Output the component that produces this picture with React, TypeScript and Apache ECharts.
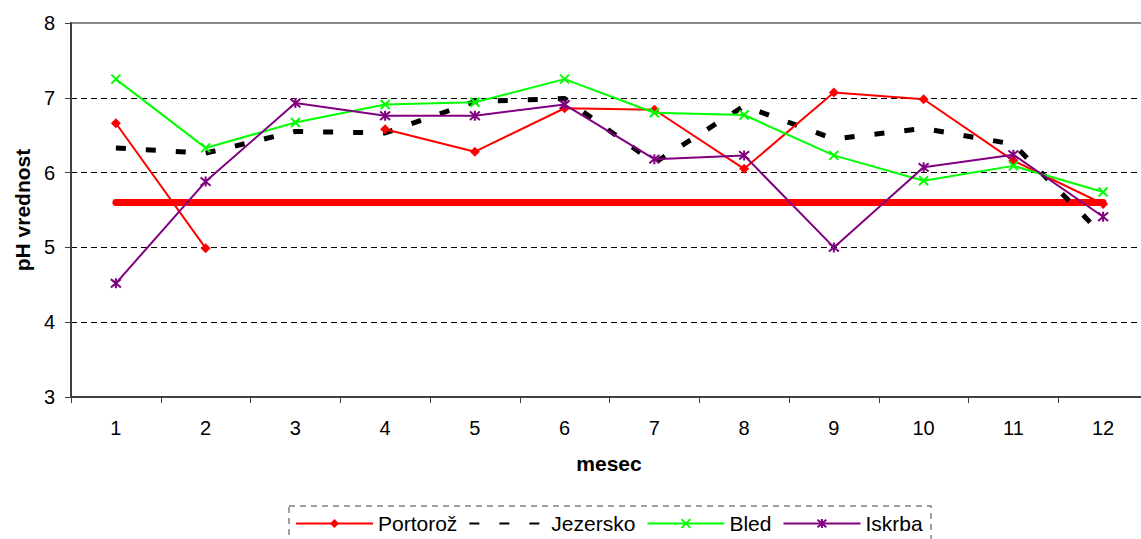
import React, { useEffect, useRef } from "react";
import * as echarts from "echarts";

const months = ["1", "2", "3", "4", "5", "6", "7", "8", "9", "10", "11", "12"];
const yTicks = { min: 3, max: 8, interval: 1 };

const portoroz: (number | null)[] = [6.66, 4.99, null, 6.58, 6.28, 6.86, 6.84, 6.05, 7.07, 6.98, 6.16, 5.58];
const jezersko = [6.33, 6.26, 6.55, 6.53, 6.95, 6.99, 6.13, 6.89, 6.45, 6.59, 6.38, 5.16];
const bled = [7.25, 6.33, 6.67, 6.91, 6.94, 7.25, 6.8, 6.77, 6.23, 5.89, 6.09, 5.74];
const iskrba = [4.52, 5.88, 6.93, 6.76, 6.76, 6.91, 6.18, 6.23, 5.0, 6.07, 6.24, 5.41];
const limit = [5.6, 5.6, 5.6, 5.6, 5.6, 5.6, 5.6, 5.6, 5.6, 5.6, 5.6, 5.6];

const FONT = "'Liberation Sans', Arial, sans-serif";

export default function App() {
  const ref = useRef<HTMLDivElement>(null);
  useEffect(() => {
    if (!ref.current) return;
    const chart = echarts.init(ref.current, undefined, { renderer: "svg" });
    const xSym = "path://M0,0L10,10M10,0L0,10";
    const starSym = "path://M0,0L10,10M10,0L0,10M5,-1L5,11";
    chart.setOption({
      animation: false,
      textStyle: { fontFamily: FONT },
      grid: {
        left: 71,
        top: 23,
        width: 1077,
        height: 374,
        show: true,
        borderColor: "#8a8a8a",
        borderWidth: 2,
      },
      legend: {
        data: [
          { name: "Portorož" },
          { name: "Jezersko", itemStyle: { opacity: 0 } },
          { name: "Bled" },
          { name: "Iskrba" },
        ],
        left: 295,
        top: 513,
        padding: 0,
        itemWidth: 77,
        itemHeight: 11,
        itemGap: 11,
        textStyle: { fontSize: 21, color: "#000", fontFamily: FONT, lineHeight: 21 },
      },
      xAxis: {
        type: "category",
        data: months,
        boundaryGap: true,
        axisLine: { show: true, lineStyle: { color: "#404040", width: 2 } },
        axisTick: { show: true, length: 6, lineStyle: { color: "#404040", width: 1 } },
        axisLabel: { fontSize: 20, color: "#000", margin: 21, fontFamily: FONT },
        splitLine: { show: false },
      },
      yAxis: {
        type: "value",
        min: yTicks.min,
        max: yTicks.max,
        interval: yTicks.interval,
        axisLine: { show: true, lineStyle: { color: "#404040", width: 2 } },
        axisTick: { show: true, length: 6, lineStyle: { color: "#404040", width: 1 } },
        axisLabel: { fontSize: 20, color: "#000", margin: 16, fontFamily: FONT },
        splitLine: {
          show: true,
          lineStyle: {
            color: ["#000", "#000", "#000", "#000", "#000", "#8a8a8a"],
            type: [6, 4],
            width: 1,
          },
        },
      },
      graphic: [
        {
          type: "text",
          x: 22,
          y: 210,
          rotation: Math.PI / 2,
          style: {
            text: "pH vrednost",
            font: `bold 21px ${FONT}`,
            fill: "#000",
            textAlign: "center",
            textVerticalAlign: "middle",
          },
        },
        {
          type: "text",
          x: 609,
          y: 463,
          style: {
            text: "mesec",
            font: `bold 21px ${FONT}`,
            fill: "#000",
            textAlign: "center",
            textVerticalAlign: "middle",
          },
        },
        {
          type: "rect",
          shape: { x: 289, y: 506, width: 642, height: 60 },
          style: { fill: "none", stroke: "#808080", lineWidth: 1.5, lineDash: [6, 5] },
        },
      ],
      series: [
        {
          name: "limit",
          type: "line",
          data: limit,
          symbol: "none",
          lineStyle: { color: "#ff0000", width: 7, cap: "round" },
          itemStyle: { color: "#ff0000" },
          z: 1,
          silent: true,
        },
        {
          name: "Portorož",
          type: "line",
          data: portoroz,
          connectNulls: false,
          symbol: "diamond",
          symbolSize: 10,
          lineStyle: { color: "#ff0000", width: 2 },
          itemStyle: { color: "#ff0000", borderWidth: 0 },
          z: 3,
        },
        {
          name: "Jezersko",
          type: "line",
          data: jezersko,
          symbol: "none",
          lineStyle: { color: "#000", width: 5, type: [10, 20] },
          itemStyle: { color: "#000" },
          z: 2,
        },
        {
          name: "Bled",
          type: "line",
          data: bled,
          symbol: xSym,
          symbolSize: 9,
          lineStyle: { color: "#00ff00", width: 2 },
          itemStyle: { color: "#00ff00", borderColor: "#00ff00", borderWidth: 2 },
          z: 4,
        },
        {
          name: "Iskrba",
          type: "line",
          data: iskrba,
          symbol: starSym,
          symbolSize: 10,
          lineStyle: { color: "#800080", width: 2 },
          itemStyle: { color: "#800080", borderColor: "#800080", borderWidth: 2 },
          z: 5,
        },
      ],
    });
    return () => chart.dispose();
  }, []);
  return (
    <div
      style={{
        position: "absolute",
        left: 0,
        top: 0,
        width: 1141,
        height: 539,
        overflow: "hidden",
        background: "#fff",
      }}
    >
      <div ref={ref} style={{ width: 1170, height: 539 }} />
    </div>
  );
}
